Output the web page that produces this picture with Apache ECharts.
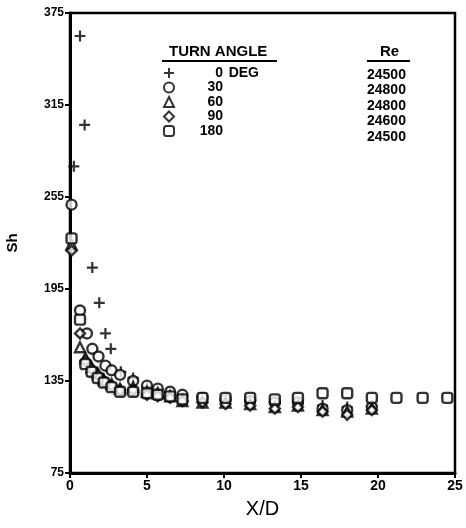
<!DOCTYPE html>
<html>
<head>
<meta charset="utf-8">
<script src="https://cdn.jsdelivr.net/npm/echarts@6/dist/echarts.min.js"></script>
<style>
  html, body { margin: 0; padding: 0; background: #fff; }
  #chart { width: 466px; height: 528px; }
</style>
</head>
<body>
<div id="chart"></div>
<script>
// turn angle labels and Re column
const angleNames = ['0 DEG', '30', '60', '90', '180']
const reValues = ['24500', '24800', '24800', '24600', '24500']

// 0 deg (+)
const x0 = [0.25, 0.65, 0.95, 1.45, 1.9, 2.3, 2.65, 3.3, 4.1, 5.0, 5.7, 6.5, 7.3, 8.6, 10.1, 11.7, 13.3, 14.8, 16.4, 18.0, 19.6]
const sh0 = [275, 360, 302, 209, 186, 166, 156, 141, 137, 131, 128, 126, 124, 123, 122, 121, 120, 120, 119, 118, 119]
// 30 deg (circle)
const x30 = [0.1, 0.65, 1.1, 1.45, 1.85, 2.3, 2.7, 3.25, 4.1, 5.0, 5.7, 6.5, 7.3, 8.6, 10.1, 11.7, 13.3, 14.8, 16.4, 18.0, 19.6]
const sh30 = [250, 181, 166, 156, 151, 145, 142, 139, 135, 132, 130, 128, 126, 124, 123, 122, 121, 121, 117, 116, 118]
// 60 deg (triangle)
const x60 = [0.1, 0.65, 1.0, 1.4, 1.8, 2.2, 2.7, 3.25, 4.1, 5.0, 5.7, 6.5, 7.3, 8.6, 10.1, 11.7, 13.3, 14.8, 16.4, 18.0, 19.6]
const sh60 = [224, 157, 150, 144, 140, 136, 133, 130, 131, 128, 127, 125, 122, 121, 121, 120, 118, 119, 116, 115, 117]
// 90 deg (diamond)
const x90 = [0.1, 0.65, 1.0, 1.4, 1.8, 2.2, 2.7, 3.25, 4.1, 5.0, 5.7, 6.5, 7.3, 8.6, 10.1, 11.7, 13.3, 14.8, 16.4, 18.0, 19.6]
const sh90 = [220, 166, 148, 143, 139, 135, 132, 129, 129, 126, 125, 124, 122, 121, 120, 119, 117, 118, 115, 113, 116]
// 180 deg (square)
const x180 = [0.1, 0.65, 1.0, 1.4, 1.8, 2.2, 2.7, 3.25, 4.1, 5.0, 5.7, 6.5, 7.3, 8.6, 10.1, 11.7, 13.3, 14.8, 16.4, 18.0, 19.6, 21.2, 22.9, 24.5]
const sh180 = [228, 175, 146, 141, 137, 134, 131, 128, 128, 127, 126, 125, 123, 124, 124, 124, 123, 124, 127, 127, 124, 124, 124, 124]

const xTicks = [0, 5, 10, 15, 20, 25]
const yTicks = [75, 135, 195, 255, 315, 375]

const pairs = (xs, ys) => xs.map((x, i) => [x, ys[i]])
const font = 'Liberation Sans'
const plusPath = 'path://M4,0H6V4H10V6H6V10H4V6H0V4H4Z'

const hollow = { color: '#fff', borderColor: '#000', borderWidth: 2.4 }

const seriesDefs = [
  { name: angleNames[0], symbol: plusPath, size: 11, data: pairs(x0, sh0), style: { color: '#000', borderWidth: 0 } },
  { name: angleNames[1], symbol: 'circle', size: 10, data: pairs(x30, sh30), style: hollow },
  { name: angleNames[2], symbol: 'triangle', size: 10, data: pairs(x60, sh60), style: hollow },
  { name: angleNames[3], symbol: 'diamond', size: 10, data: pairs(x90, sh90), style: hollow },
  { name: angleNames[4], symbol: 'roundRect', size: 10, data: pairs(x180, sh180), style: hollow }
]

const chart = echarts.init(document.getElementById('chart'))

// header texts, underlines and the Re column
const graphics = [
  { type: 'text', left: 169, top: 44, style: { text: 'TURN ANGLE', font: 'bold 15px "' + font + '"', fill: '#000' } },
  { type: 'line', shape: { x1: 162, y1: 61, x2: 277, y2: 61 }, style: { stroke: '#000', lineWidth: 2 } },
  { type: 'text', left: 380, top: 44, style: { text: 'Re', font: 'bold 15px "' + font + '"', fill: '#000' } },
  { type: 'line', shape: { x1: 367, y1: 61, x2: 410, y2: 61 }, style: { stroke: '#000', lineWidth: 2 } }
]
reValues.forEach((v, i) => {
  graphics.push({
    type: 'text', left: 367, top: 68 + i * 15.5,
    style: { text: v, font: 'bold 14px "' + font + '"', fill: '#000' }
  })
})

chart.setOption({
  animation: false,
  backgroundColor: '#fff',
  grid: {
    left: 70, right: 11, top: 13, bottom: 55,
    outerBoundsMode: 'none',
    containLabel: false,
    show: true, borderColor: '#000', borderWidth: 2.5
  },
  xAxis: {
    type: 'value', min: xTicks[0], max: xTicks[xTicks.length - 1], interval: 5,
    name: 'X/D', nameLocation: 'middle', nameGap: 26,
    nameTextStyle: { fontFamily: font, fontSize: 20, color: '#000' },
    axisLine: { lineStyle: { color: '#000', width: 3 } },
    axisTick: { lineStyle: { color: '#000', width: 2 }, length: 5 },
    axisLabel: { color: '#000', fontFamily: font, fontWeight: 'bold', fontSize: 14, margin: 6 },
    splitLine: { show: false }
  },
  yAxis: {
    type: 'value', min: yTicks[0], max: yTicks[yTicks.length - 1], interval: 60,
    name: 'Sh', nameLocation: 'middle', nameGap: 50,
    nameTextStyle: { fontFamily: font, fontWeight: 'bold', fontSize: 15, color: '#000' },
    axisLine: { show: true, lineStyle: { color: '#000', width: 3 } },
    axisTick: { show: true, lineStyle: { color: '#000', width: 2 }, length: 5 },
    axisLabel: { color: '#000', fontFamily: font, fontWeight: 'bold', fontSize: 12, margin: 6 },
    splitLine: { show: false }
  },
  legend: {
    orient: 'vertical', left: 163, top: 66, padding: 0,
    itemWidth: 10, itemHeight: 10, itemGap: 0.5,
    data: angleNames,
    textStyle: {
      color: '#000', fontFamily: font, fontWeight: 'bold', fontSize: 14, lineHeight: 12,
      rich: {
        n: { width: 44, align: 'right', fontFamily: font, fontWeight: 'bold', fontSize: 14, lineHeight: 12, color: '#000' },
        u: { width: 36, align: 'right', fontFamily: font, fontWeight: 'bold', fontSize: 14, lineHeight: 12, color: '#000' }
      }
    },
    formatter: function(name) {
      const parts = name.split(' ')
      return '{n|' + parts[0] + '}{u|' + (parts[1] || '') + '}'
    }
  },
  graphic: graphics,
  series: seriesDefs.map((s) => ({
    type: 'scatter',
    name: s.name,
    symbol: s.symbol,
    symbolSize: s.size,
    itemStyle: s.style,
    data: s.data
  }))
})
</script>
</body>
</html>
